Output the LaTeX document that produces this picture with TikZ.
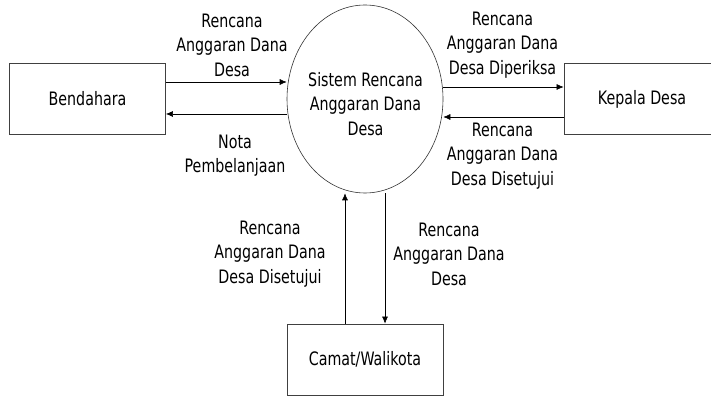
\documentclass[tikz,border=0pt]{standalone}
\usepackage{fontspec}
\setmainfont{DejaVu Sans}[FakeStretch=0.77]
\usetikzlibrary{shapes.geometric,positioning,arrows.meta}

\tikzset{
	entitas/.style={draw=black!75,line width=.8pt,minimum width=156,minimum height=71,inner sep=0pt},
	proses/.style={draw=black!80,ellipse,line width=.6pt,minimum width=156,minimum height=188,inner sep=0pt},
	aliran/.style={-{Latex[length=7pt,width=6pt]},line width=.6pt},
	ket/.style={align=center,font=\fontsize{18.5}{24.5}\selectfont}
}

\begin{document}
\begin{tikzpicture}[x=1pt,y=1pt,every node/.style={font=\fontsize{18.5}{24.5}\selectfont}]
	\useasboundingbox (0,0) rectangle (711,396);

	\node[entitas] (bendahara) at (87.5,297) {Bendahara};
	\node[proses] (sistem) at (365,297) {};
	\node[ket] (sistemteks) at (365.5,292) {Sistem Rencana\\Anggaran Dana\\Desa};
	\node[entitas] (kepala) at (642,297) {Kepala Desa};
	\node[entitas] (camat) at (365,360.5-324) {Camat/Walikota};

%	====================================================================
	\draw[aliran] ([yshift=17]bendahara.east) coordinate (b1) -- (b1 -| sistem.west);
	\draw[aliran] ([yshift=-15]bendahara.east) coordinate (b2) (b2 -| sistem.west) -- (b2);
	\draw[aliran] ([yshift=12]kepala.west) coordinate (k1) (k1 -| sistem.east) -- (k1);
	\draw[aliran] ([yshift=-18]kepala.west) coordinate (k2) -- (k2 -| sistem.east);
	\draw[aliran] ([xshift=-20]camat.north) coordinate (c1) -- (c1 |- sistem.south);
	\draw[aliran] ([xshift=20]camat.north) coordinate (c2) (c2 |- sistem.south) -- (c2);
%	====================================================================

	\node[ket] (rab1) at (232,351) {Rencana\\Anggaran Dana\\Desa};
	\node[ket] (nota) at (235,240.5) {Nota\\Pembelanjaan};
	\node[ket] (rab2) at (502.5,351) {Rencana\\Anggaran Dana\\Desa Diperiksa};
	\node[ket] (rab3) at (502.5,240) {Rencana\\Anggaran Dana\\Desa Disetujui};
	\node[ket] (rab4) at (270,142) {Rencana\\Anggaran Dana\\Desa Disetujui};
	\node[ket] (rab5) at (449,142) {Rencana\\Anggaran Dana\\Desa};
\end{tikzpicture}
\end{document}
